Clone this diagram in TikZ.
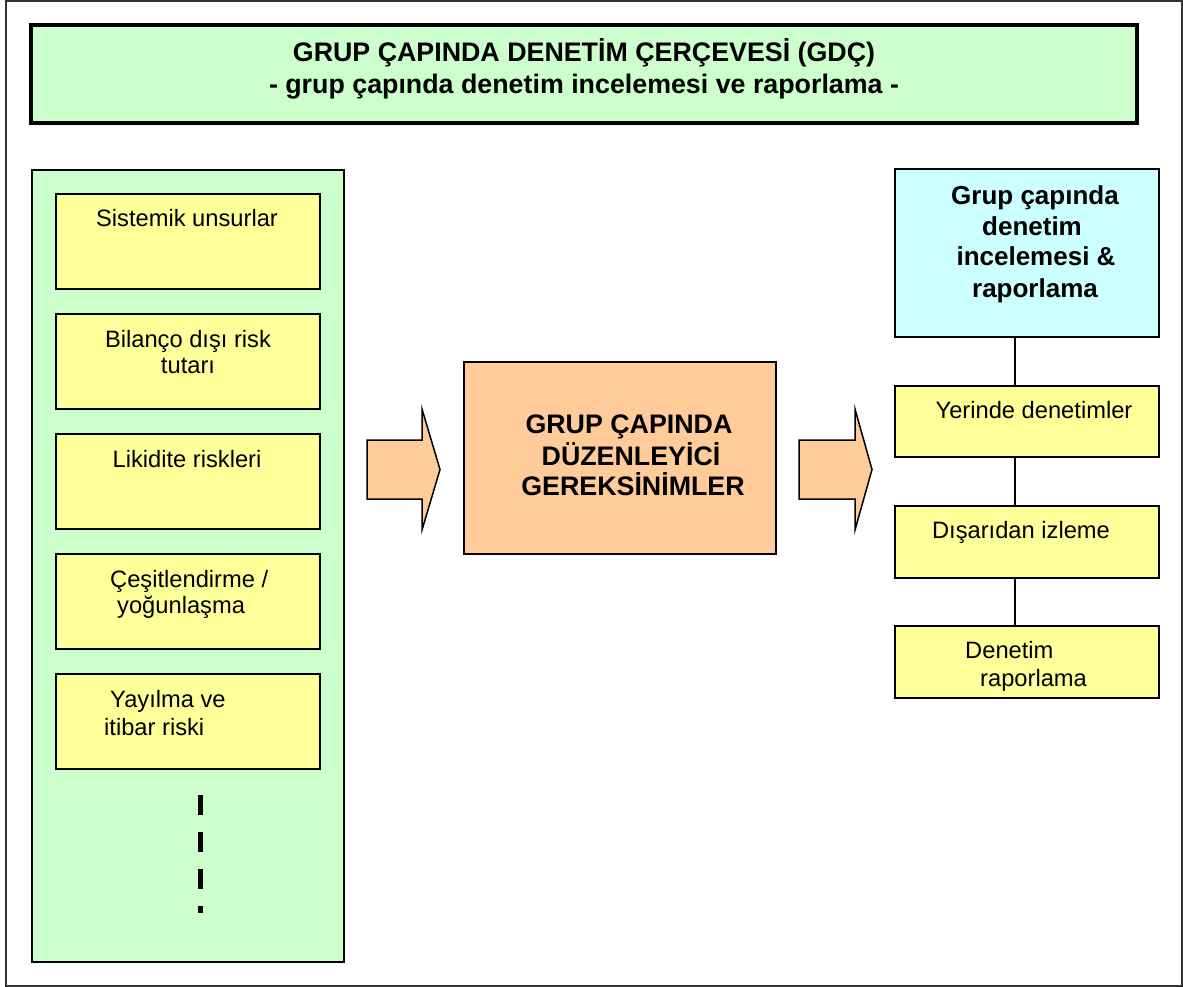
\documentclass[tikz,border=0pt]{standalone}
\usepackage{fontspec}
\setmainfont{Liberation Sans}
\definecolor{lgreen}{HTML}{CCFFCC}
\definecolor{lyellow}{HTML}{FFFF99}
\definecolor{peach}{HTML}{FFCC99}
\definecolor{lcyan}{HTML}{CCFFFF}
\begin{document}
\begin{tikzpicture}[x=1pt,y=-1pt,
  box/.style={draw=black, line width=2pt, inner sep=0pt, outer sep=0pt},
  ybox/.style={box, fill=lyellow, minimum width=264pt},
  reg/.style={font=\fontsize{23.7}{28}\selectfont, inner sep=0pt, anchor=base},
  bld/.style={font=\fontsize{26}{30}\selectfont\bfseries, inner sep=0pt, anchor=base},
  bldl/.style={font=\fontsize{26.8}{30}\selectfont\bfseries, inner sep=0pt, anchor=base},
  arr/.style={draw=black, line width=1.5pt, fill=peach, line join=miter}]
\useasboundingbox (0,0) rectangle (1183,987);
% outer frame
\draw[line width=1.5pt, black!80] (6,1) rectangle (1182,986);
% title
\node[box, line width=4pt, fill=lgreen, minimum width=1106pt, minimum height=98pt] (title) at (584,74) {};
\node[bldl] (t1) at (584,62) {GRUP ÇAPINDA DENETİM ÇERÇEVESİ (GDÇ)};
\node[bldl] (t2) at (584,94) {- grup çapında denetim incelemesi ve raporlama -};
% left panel
\node[box, fill=lgreen, minimum width=312pt, minimum height=792pt] (panel) at (188,566) {};
\node[ybox, minimum height=95pt] (l1) at (188,241.5) {};
\node[ybox, minimum height=95pt] (l2) at (188,361.5) {};
\node[ybox, minimum height=95pt] (l3) at (188,481.5) {};
\node[ybox, minimum height=95pt] (l4) at (188,601.5) {};
\node[ybox, minimum height=95pt] (l5) at (188,721.5) {};
\node[reg] (l1t) at (187,226) {Sistemik unsurlar};
\node[reg] (l2a) at (188,347) {Bilanço dışı risk};
\node[reg] (l2b) at (188,373) {tutarı};
\node[reg] (l3t) at (187,467) {Likidite riskleri};
\node[reg, anchor=base west] (l4a) at (110,587) {Çeşitlendirme /};
\node[reg, anchor=base west] (l4b) at (117,613) {yoğunlaşma};
\node[reg, anchor=base west] (l5a) at (110,707) {Yayılma ve};
\node[reg, anchor=base west] (l5b) at (104,735) {itibar riski};
\coordinate (d1) at (200,795);
\coordinate (d2) at (200,913);
\draw[line width=5pt, dash pattern=on 20pt off 17pt] (d1) -- (d2);
% arrows
\draw[arr] (367,440) -- (422,440) -- (422,409) -- (440,469.5) -- (422,530) -- (422,499) -- (367,499) -- cycle;
\draw[arr] (799,440) -- (855,440) -- (855,409) -- (872,469.5) -- (855,530) -- (855,499) -- (799,499) -- cycle;
% center box
\node[box, fill=peach, minimum width=312pt, minimum height=192pt] (mid) at (620,458) {};
\node[bldl] (m1) at (629,433) {GRUP ÇAPINDA};
\node[bldl] (m2) at (631,465) {DÜZENLEYİCİ};
\node[bldl] (m3) at (633,495) {GEREKSİNİMLER};
% right column
\node[box, fill=lcyan, minimum width=264pt, minimum height=168pt] (rc) at (1027,253) {};
\node[bld] (rc1) at (1035,205) {Grup çapında};
\node[bld] (rc2) at (1032,235) {denetim};
\node[bld] (rc3) at (1036,265) {incelemesi \&};
\node[bld] (rc4) at (1035,297) {raporlama};
\node[ybox, minimum height=71pt] (r1) at (1027,421.5) {};
\node[ybox, minimum height=72pt] (r2) at (1027,542) {};
\node[ybox, minimum height=72pt] (r3) at (1027,662) {};
\node[reg] (r1t) at (1034,418) {Yerinde denetimler};
\node[reg] (r2t) at (1021,538) {Dışarıdan izleme};
\node[reg, anchor=base west] (r3a) at (965,658) {Denetim};
\node[reg, anchor=base west] (r3b) at (980,686) {raporlama};
\coordinate (lx) at (1015,0);
\draw[line width=2pt] (rc.south -| lx) -- (r1.north -| lx);
\draw[line width=2pt] (r1.south -| lx) -- (r2.north -| lx);
\draw[line width=2pt] (r2.south -| lx) -- (r3.north -| lx);
\end{tikzpicture}
\end{document}
